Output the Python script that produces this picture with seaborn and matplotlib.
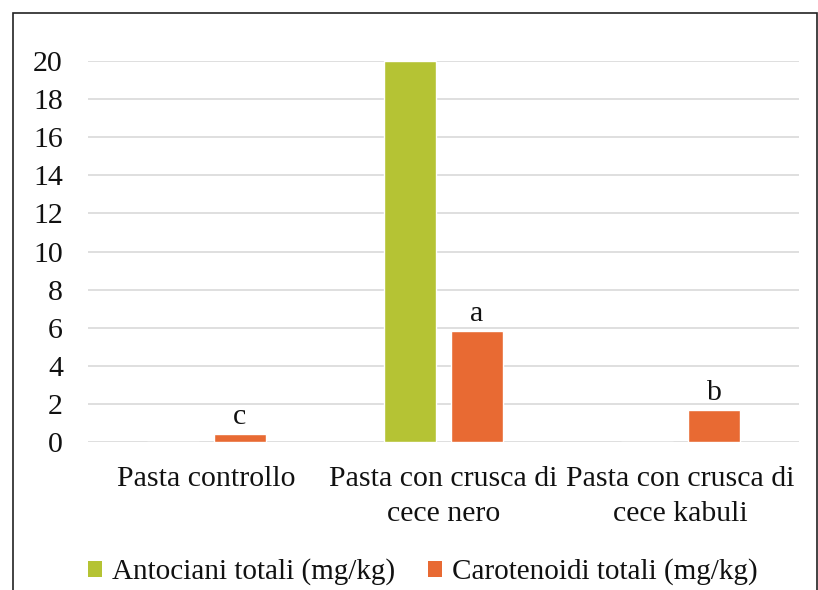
import pandas as pd
import matplotlib.pyplot as plt
import seaborn as sns
from matplotlib.patches import Rectangle, Patch

# Data
categories = ['Pasta controllo', 'Pasta con crusca di\ncece nero', 'Pasta con crusca di\ncece kabuli']
antociani = [0.0, 20.0, 0.0]
carotenoidi = [0.4, 5.83, 1.68]
letters = ['c', 'a', 'b']
series_names = ['Antociani totali (mg/kg)', 'Carotenoidi totali (mg/kg)']
colors = ['#B5C334', '#E86A33']

df = pd.DataFrame({
    'Campione': categories * 2,
    'Serie': [series_names[0]] * 3 + [series_names[1]] * 3,
    'Valore': antociani + carotenoidi,
})

sns.set_theme(style='white')
plt.rcParams['font.family'] = ['Liberation Serif', 'DejaVu Serif']
fs = 21.5

fig = plt.figure(figsize=(8.18, 5.9), dpi=100)
ax = fig.add_axes([88 / 818, 1 - 442 / 590, 711 / 818, 381 / 590])

sns.barplot(data=df, x='Campione', y='Valore', hue='Serie', order=categories,
            hue_order=series_names, palette=colors, width=0.565, gap=0.224,
            saturation=1, ax=ax, legend=False)

ax.bar_label(ax.containers[1], labels=letters, padding=3, fontsize=fs, color='#111111')

ax.set_xlim(-0.5, 2.5)
ax.set_ylim(0, 20)
ax.set_yticks(range(0, 21, 2))
ax.yaxis.grid(True, color='#D9D9D9', linewidth=1.2)
ax.set_axisbelow(True)
for s in ax.spines.values():
    s.set_visible(False)
ax.tick_params(axis='y', length=0, pad=18, labelsize=fs, labelcolor='#111111')
ax.tick_params(axis='x', length=0, pad=17, labelsize=fs, labelcolor='#111111')
for lbl in ax.get_xticklabels():
    lbl.set_linespacing(1.45)
ax.set_xlabel('')
ax.set_ylabel('')

handles = [Patch(facecolor=c, edgecolor='none') for c in colors]
fig.legend(handles, series_names, loc='center', bbox_to_anchor=(0.517, 1 - 572 / 590),
           ncol=2, frameon=False, fontsize=21, handlelength=0.48, handleheight=0.48,
           handletextpad=0.35, columnspacing=1.1, labelcolor='#111111')

# chart border
fig.patches.append(Rectangle((13 / 818, -0.05), (817 - 13) / 818, 1.05 - 13 / 590,
                             transform=fig.transFigure, fill=False,
                             edgecolor='#222222', linewidth=1.2))

fig.savefig('out.png', dpi=100)
